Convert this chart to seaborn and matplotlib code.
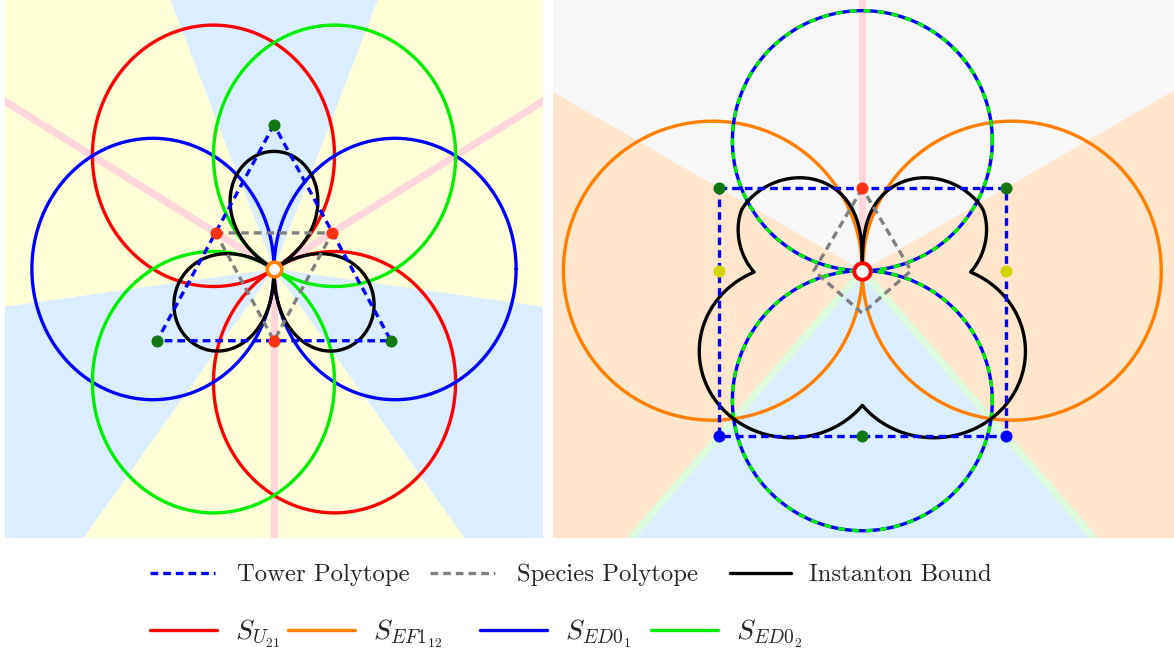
import numpy as np
import matplotlib
matplotlib.use("Agg")
import matplotlib.pyplot as plt
from matplotlib.lines import Line2D
import seaborn as sns

# ---------------- values ----------------
# left panel (circle radius = 1 unit)
L_xlim = (-2.222, 2.222)
L_ylim = (-2.058, 2.058)
L_circ_r = 1.0
L_u21_ang = [120, 300]          # centre directions of S_U21 circles (deg)
L_ed01_ang = [0, 180]           # S_ED0_1
L_ed02_ang = [60, 240]          # S_ED0_2
L_tower_x = [0.0, -0.966, 0.966]
L_tower_y = [1.104, -0.549, -0.549]
L_species_x = [-0.481, 0.481, 0.0]
L_species_y = [0.276, 0.276, -0.549]
L_lobe_ang = [90, 210, 330]     # instanton bound lobes
L_lobe_len = 0.90
L_lobe_half = 60.0
L_wedge_ang = [90, 210, 330]    # blue background wedges
L_wedge_half = 22.6
L_rays = [30, 150, 270]

# right panel
R_xlim = (-2.378, 2.398)
R_ylim = (-2.056, 2.082)
R_ef1_cx = [-1.15, 1.15]
R_ef1_r = 1.15
R_ed0_cy = [1.0, -1.0]
R_ed0_r = 1.0
R_tower_x = [-1.105, 1.105, 1.105, -1.105]
R_tower_y = [0.634, 0.634, -1.269, -1.269]
R_species_x = [0.0, -0.373, 0.0, 0.375]
R_species_y = [0.634, 0.0, -0.328, 0.0]
R_green_x = [-1.105, 1.105, 0.0]
R_green_y = [0.634, 0.634, -1.269]
R_red_x = [0.0]
R_red_y = [0.634]
R_yellow_x = [-1.105, 1.105]
R_yellow_y = [0.0, 0.0]
R_blue_x = [-1.105, 1.105]
R_blue_y = [-1.269, -1.269]
R_ul_lobe = (153.0, 63.0, 55.0, 1.04)      # centre, left span, right span, length
R_ll_ellipse = (-0.55, -0.62, 0.705, 0.665)  # cx, cy, a, b
R_gray_wedge = (30.0, 150.0)
R_blue_wedge = (229.1, 310.9)
R_green_rays = [229.1, 310.9]
R_pink_rays = [90]

# legend entries
leg1_labels = ["Tower Polytope", "Species Polytope", "Instanton Bound"]
leg2_labels = [r"$S_{U_{21}}$", r"$S_{EF1_{12}}$", r"$S_{ED0_1}$", r"$S_{ED0_2}$"]

# ---------------- style ----------------
sns.set_theme(style="white")
plt.rcParams["font.family"] = ["cmr10", "DejaVu Serif"]
plt.rcParams["mathtext.fontset"] = "cm"
plt.rcParams["axes.formatter.use_mathtext"] = True

C_RED, C_ORANGE, C_BLUE, C_GREEN = "#ff0000", "#ff8000", "#0000ff", "#00ee00"
LW = 2.4
TOWER_LS = (0, (2.3, 1.5))
SPEC_LS = (0, (2.3, 1.5))

fig = plt.figure(figsize=(11.74, 6.5), dpi=100)
axL = fig.add_axes([5 / 1174, 112 / 650, 538 / 1174, 538 / 650])
axR = fig.add_axes([553.3 / 1174, 112 / 650, 620.7 / 1174, 538 / 650])

t = np.linspace(0, 2 * np.pi, 721)


def wedge(ax, a1, a2, color):
    a = np.radians(np.linspace(a1, a2, 200))
    xs = np.concatenate([[0], 8 * np.cos(a), [0]])
    ys = np.concatenate([[0], 8 * np.sin(a), [0]])
    ax.fill(xs, ys, color=color, lw=0, zorder=0)


def ray(ax, ang, color):
    a = np.radians(ang)
    ax.plot([0, 8 * np.cos(a)], [0, 8 * np.sin(a)], color=color, lw=5.2,
            solid_capstyle="butt", zorder=1)


def circle(ax, cx, cy, r, color, z, **kw):
    sns.lineplot(x=cx + r * np.cos(t), y=cy + r * np.sin(t), sort=False,
                 estimator=None, ax=ax, color=color, lw=LW, zorder=z, **kw)


def closed(xs, ys):
    return list(xs) + [xs[0]], list(ys) + [ys[0]]


# ================= left panel =================
axL.set_facecolor("#ffffd8")
for c in L_wedge_ang:
    wedge(axL, c - L_wedge_half, c + L_wedge_half, "#dbeeff")
for a in L_rays:
    ray(axL, a, "#ffd6dc")

for a in L_u21_ang:
    circle(axL, np.cos(np.radians(a)), np.sin(np.radians(a)), L_circ_r, C_RED, 2)
for a in L_ed01_ang:
    circle(axL, np.cos(np.radians(a)), np.sin(np.radians(a)), L_circ_r, C_BLUE, 2)
for a in L_ed02_ang:
    circle(axL, np.cos(np.radians(a)), np.sin(np.radians(a)), L_circ_r, C_GREEN, 2)

# instanton bound: three lobes
th = np.linspace(30, 390, 3601)
rL = np.zeros_like(th)
for c in L_lobe_ang:
    for shift in (0, 360):
        v = (th - c - shift) / L_lobe_half
        m = np.abs(v) < 1
        rL[m] = L_lobe_len * (1 - v[m] ** 2) ** 0.85
sns.lineplot(x=rL * np.cos(np.radians(th)), y=rL * np.sin(np.radians(th)),
             sort=False, estimator=None, ax=axL, color="black", lw=LW, zorder=3)

tx, ty = closed(L_tower_x, L_tower_y)
sns.lineplot(x=tx, y=ty, sort=False, estimator=None, ax=axL, color=C_BLUE,
             lw=LW, linestyle=TOWER_LS, zorder=4)
sx, sy = closed(L_species_x, L_species_y)
sns.lineplot(x=sx, y=sy, sort=False, estimator=None, ax=axL, color="#808080",
             lw=LW, linestyle=SPEC_LS, zorder=4)

sns.scatterplot(x=L_tower_x, y=L_tower_y, ax=axL, color="#117711", s=75,
                linewidth=0, zorder=5)
sns.scatterplot(x=L_species_x, y=L_species_y, ax=axL, color="#ff3311", s=75,
                linewidth=0, zorder=5)
sns.scatterplot(x=[0], y=[0], ax=axL, color="white", edgecolor=C_ORANGE, s=110,
                linewidth=2.6, zorder=6)

axL.set_xlim(*L_xlim)
axL.set_ylim(*L_ylim)

# ================= right panel =================
axR.set_facecolor("#ffe6cc")
wedge(axR, *R_gray_wedge, "#f7f7f7")
wedge(axR, *R_blue_wedge, "#dbeeff")
for a in R_green_rays:
    ray(axR, a, "#dcfadc")
for a in R_pink_rays:
    ray(axR, a, "#ffd6dc")

for cx in R_ef1_cx:
    circle(axR, cx, 0.0, R_ef1_r, C_ORANGE, 2)
for cy in R_ed0_cy:
    circle(axR, 0.0, cy, R_ed0_r, C_BLUE, 2)
    circle(axR, 0.0, cy, R_ed0_r, C_GREEN, 2.1, linestyle=(0, (2.1, 2.1)))

# instanton bound
thR = np.linspace(90, 450, 7201)


def ul(thd):
    c, wl, wr, Ll = R_ul_lobe
    d = ((thd - c + 180) % 360) - 180
    v = np.where(d < 0, -d / wl, d / wr)
    return np.where(v < 1, Ll * np.sqrt(np.clip(1 - np.abs(v) ** 1.5, 0, None)), 0.0)


def ell(thd, cx, cy, a, b):
    nx, ny = np.cos(np.radians(thd)), np.sin(np.radians(thd))
    A = nx ** 2 / a ** 2 + ny ** 2 / b ** 2
    B = nx * cx / a ** 2 + ny * cy / b ** 2
    C = cx ** 2 / a ** 2 + cy ** 2 / b ** 2 - 1
    disc = B ** 2 - A * C
    r = (B + np.sqrt(np.clip(disc, 0, None))) / A
    return np.where((disc >= 0) & (B > 0), r, 0.0)


ecx, ecy, ea, eb = R_ll_ellipse
rR = np.maximum.reduce([
    ul(thR), ul(180 - thR),
    ell(thR, ecx, ecy, ea, eb), ell(thR, -ecx, ecy, ea, eb)])
sns.lineplot(x=rR * np.cos(np.radians(thR)), y=rR * np.sin(np.radians(thR)),
             sort=False, estimator=None, ax=axR, color="black", lw=LW, zorder=3)

tx, ty = closed(R_tower_x, R_tower_y)
sns.lineplot(x=tx, y=ty, sort=False, estimator=None, ax=axR, color=C_BLUE,
             lw=LW, linestyle=TOWER_LS, zorder=4)
sx, sy = closed(R_species_x, R_species_y)
sns.lineplot(x=sx, y=sy, sort=False, estimator=None, ax=axR, color="#808080",
             lw=LW, linestyle=SPEC_LS, zorder=4)

sns.scatterplot(x=R_green_x, y=R_green_y, ax=axR, color="#117711", s=75, linewidth=0, zorder=5)
sns.scatterplot(x=R_red_x, y=R_red_y, ax=axR, color="#ff3311", s=75, linewidth=0, zorder=5)
sns.scatterplot(x=R_yellow_x, y=R_yellow_y, ax=axR, color="#d4d400", s=75, linewidth=0, zorder=5)
sns.scatterplot(x=R_blue_x, y=R_blue_y, ax=axR, color="#0000ff", s=75, linewidth=0, zorder=5)
sns.scatterplot(x=[0], y=[0], ax=axR, color="white", edgecolor=C_RED, s=140,
                linewidth=2.8, zorder=6)

axR.set_xlim(*R_xlim)
axR.set_ylim(*R_ylim)

for ax in (axL, axR):
    ax.set_xticks([])
    ax.set_yticks([])
    ax.set_xlabel("")
    ax.set_ylabel("")
    for s in ax.spines.values():
        s.set_visible(False)

# ================= legends =================
h1 = [Line2D([], [], color=C_BLUE, lw=LW, linestyle=TOWER_LS),
      Line2D([], [], color="#808080", lw=LW, linestyle=SPEC_LS),
      Line2D([], [], color="black", lw=LW)]
h2 = [Line2D([], [], color=c, lw=LW) for c in (C_RED, C_ORANGE, C_BLUE, C_GREEN)]

row1_x = [150, 430, 730]
row1_hl = [2.63, 2.63, 2.45]
row1_pad = [0.89, 0.89, 0.75]
row2_x = [150, 288, 480, 651]
for h, lab, x, hl, pad in zip(h1, leg1_labels, row1_x, row1_hl, row1_pad):
    fig.legend([h], [lab], loc="center left", bbox_to_anchor=(x / 1174, 75 / 650),
               frameon=False, fontsize=17.8, handlelength=hl, handletextpad=pad,
               borderpad=0, borderaxespad=0)
for h, lab, x in zip(h2, leg2_labels, row2_x):
    fig.legend([h], [lab], loc="center left", bbox_to_anchor=(x / 1174, 16 / 650),
               frameon=False, fontsize=20, handlelength=2.41, handletextpad=0.65,
               borderpad=0, borderaxespad=0)

fig.savefig("out.png", dpi=100)
